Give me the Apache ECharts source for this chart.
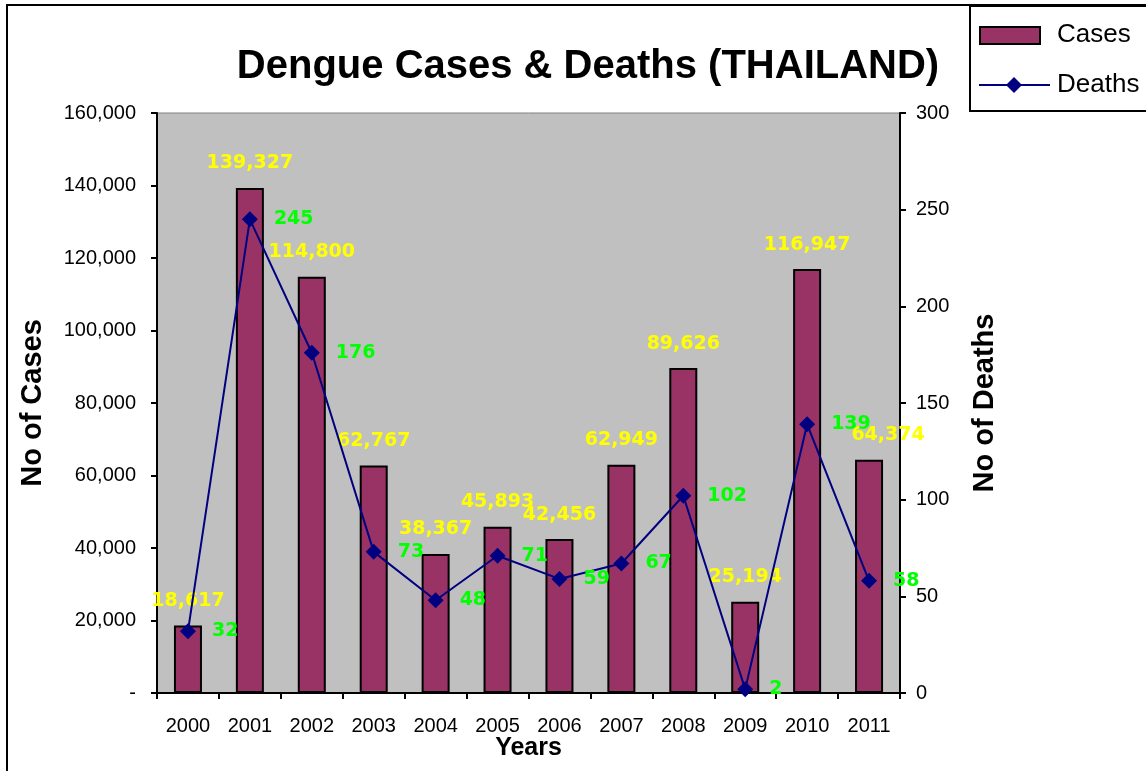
<!DOCTYPE html>
<html><head><meta charset="utf-8">
<script src="https://cdn.jsdelivr.net/npm/echarts@6/dist/echarts.min.js"></script>
<style>html,body{margin:0;padding:0;background:#fff}#c{width:1146px;height:771px}</style>
</head><body><div id="c"></div>
<script>
const years = ["2000","2001","2002","2003","2004","2005","2006","2007","2008","2009","2010","2011"];
const cases = [18617, 139327, 114800, 62767, 38367, 45893, 42456, 62949, 89626, 25194, 116947, 64374];
const deaths = [32, 245, 176, 73, 48, 71, 59, 67, 102, 2, 139, 58];
const casesTicks = {min: 0, max: 160000, interval: 20000};
const deathsTicks = {min: 0, max: 300, interval: 50};

const fmt = v => v === 0 ? "-" : v.toLocaleString("en-US");
const F = "Liberation Sans, Arial, sans-serif";
const LF = "DejaVu Sans";

const chart = echarts.init(document.getElementById('c'));
chart.setOption({
  animation: false,
  backgroundColor: '#ffffff',
  title: {
    text: 'Dengue Cases & Deaths (THAILAND)',
    left: 583, top: 42, textAlign: 'center',
    textStyle: {fontFamily: F, fontWeight: 'bold', fontSize: 40, color: '#000'}
  },
  legend: {show: false},
  graphic: [
    {type: 'rect', shape: {x: 7, y: 5, width: 1300, height: 900}, style: {fill: null, stroke: '#000', lineWidth: 2}, z: 0, silent: true},
    {type: 'rect', shape: {x: 970, y: 6, width: 200, height: 105}, style: {fill: '#fff', stroke: '#000', lineWidth: 2}, z: 10},
    {type: 'rect', shape: {x: 980, y: 27, width: 60, height: 17}, style: {fill: '#993366', stroke: '#000', lineWidth: 2}, z: 11},
    {type: 'text', x: 1057, y: 35, style: {text: 'Cases', fontFamily: F, fontSize: 26, fill: '#000', verticalAlign: 'middle'}, z: 11},
    {type: 'line', shape: {x1: 979, y1: 85, x2: 1050, y2: 85}, style: {stroke: '#000080', lineWidth: 2}, z: 11},
    {type: 'polygon', shape: {points: [[1014, 77], [1022, 85], [1014, 93], [1006, 85]]}, style: {fill: '#000080'}, z: 12},
    {type: 'text', x: 1057, y: 85, style: {text: 'Deaths', fontFamily: F, fontSize: 26, fill: '#000', verticalAlign: 'middle'}, z: 11}
  ],
  grid: {left: 157, right: 246, top: 113, bottom: 78, outerBoundsMode: 'none', containLabel: false,
    show: true, backgroundColor: '#C0C0C0', borderColor: '#808080', borderWidth: 1},
  xAxis: {
    type: 'category', data: years,
    name: 'Years', nameLocation: 'middle', nameGap: 43, nameMoveOverlap: false,
    nameTextStyle: {fontFamily: F, fontWeight: 'bold', fontSize: 25, color: '#000'},
    axisLine: {lineStyle: {color: '#000', width: 2}},
    axisTick: {show: true, length: 6, lineStyle: {color: '#000', width: 2}},
    axisLabel: {fontFamily: F, fontSize: 20, color: '#000', margin: 23},
    splitLine: {show: false}
  },
  yAxis: [
    {
      type: 'value', min: casesTicks.min, max: casesTicks.max, interval: casesTicks.interval,
      name: 'No of Cases', nameLocation: 'middle', nameGap: 110, nameRotate: 90, nameMoveOverlap: false,
      nameTextStyle: {fontFamily: F, fontWeight: 'bold', fontSize: 29, color: '#000'},
      axisLine: {show: true, lineStyle: {color: '#000', width: 2}},
      axisTick: {show: true, length: 6, lineStyle: {color: '#000', width: 2}},
      axisLabel: {fontFamily: F, fontSize: 20, color: '#000', margin: 21, formatter: fmt},
      splitLine: {show: false}
    },
    {
      type: 'value', min: deathsTicks.min, max: deathsTicks.max, interval: deathsTicks.interval,
      name: 'No of Deaths', nameLocation: 'middle', nameGap: 70, nameRotate: 90, nameMoveOverlap: false,
      nameTextStyle: {fontFamily: F, fontWeight: 'bold', fontSize: 29, color: '#000'},
      axisLine: {show: true, lineStyle: {color: '#000', width: 2}},
      axisTick: {show: true, length: 6, lineStyle: {color: '#000', width: 2}},
      axisLabel: {fontFamily: F, fontSize: 20, color: '#000', margin: 16},
      splitLine: {show: false}
    }
  ],
  series: [
    {
      name: 'Cases', type: 'bar', yAxisIndex: 0, barWidth: 28,
      itemStyle: {color: '#993366', borderColor: '#000', borderWidth: 2},
      label: {show: true, position: 'top', distance: 15, color: '#FFFF00', fontFamily: LF, fontWeight: 'bold', fontSize: 19,
        formatter: p => p.value.toLocaleString('en-US')},
      data: cases.map((v, i) => i === cases.length - 1 ? {value: v, label: {offset: [19, 0]}} : v),
      z: 2
    },
    {
      name: 'Deaths', type: 'line', yAxisIndex: 1,
      symbol: 'diamond', symbolSize: 16,
      lineStyle: {color: '#000080', width: 2},
      itemStyle: {color: '#000080'},
      label: {show: true, position: 'right', distance: 16, color: '#00FF00', fontFamily: LF, fontWeight: 'bold', fontSize: 19},
      data: deaths,
      z: 3
    }
  ]
});
</script></body></html>
